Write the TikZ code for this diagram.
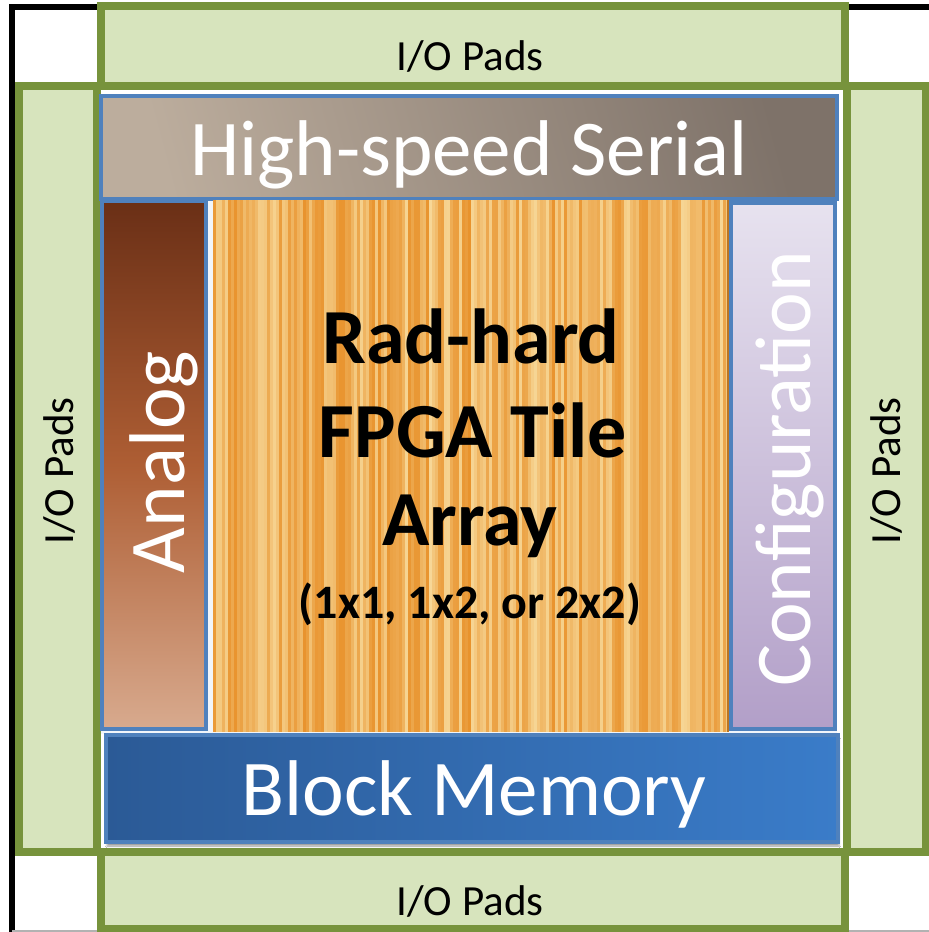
\documentclass[tikz,border=0pt]{standalone}
\usepackage{fontspec}
\setmainfont{Carlito}
\usetikzlibrary{shadows.blur}
\definecolor{padline}{HTML}{77933C}
\definecolor{padfill}{HTML}{D7E4BD}
\definecolor{edge}{HTML}{4F81BD}
\definecolor{hssL}{HTML}{BCAD9D}
\definecolor{hssR}{HTML}{7E7269}
\definecolor{anTop}{HTML}{6A2F16}
\definecolor{anMid}{HTML}{AE5E34}
\definecolor{anBot}{HTML}{D8AA8E}
\definecolor{cfTop}{HTML}{E7E2EF}
\definecolor{cfBot}{HTML}{B29FC8}
\definecolor{bmL}{HTML}{2B5A96}
\definecolor{bmR}{HTML}{3A7CC9}
\definecolor{tileDark}{HTML}{E8922C}
\definecolor{tileLight}{HTML}{F7D898}
\begin{document}
\begin{tikzpicture}[x=1pt,y=-1pt,
  pad/.style={draw=padline,fill=padfill,line width=8pt},
  blk/.style={draw=edge,line width=3.5pt},
  wtext/.style={text=white,inner sep=0pt,font=\fontsize{79}{80}\selectfont},
  iotext/.style={text=black,inner sep=0pt,font=\fontsize{43}{44}\selectfont},
  btext/.style={text=black,inner sep=0pt,font=\bfseries\fontsize{78}{80}\selectfont}]
\useasboundingbox (0,0) rectangle (929,932);
\fill[white] (0,0) rectangle (929,932);
% black frame remnants
\draw[line width=6pt] (12,932) -- (12,7) -- (97,7);
\draw[line width=6pt] (848,7) -- (929,7);
\draw[gray!60,line width=1.5pt] (12,931.2) -- (929,931.2);
% pads
\draw[pad] (19,86) rectangle (97,852);
\draw[pad] (847,86) rectangle (926,852);
\draw[pad] (101,6) rectangle (845,86);
\draw[pad] (101,852) rectangle (845,929);
% middle background
\fill[white!92!edge] (101,198) rectangle (837,734);
% high-speed serial
\draw[blk, left color=hssL, right color=hssR, shading angle=105] (101,96) rectangle (837,199);
% tile stripes
\pgfmathsetseed{7}
\foreach \i in {0,...,171}{
  \pgfmathsetmacro{\rr}{int(100*(rnd^0.8))}
  \fill[tileDark!\rr!tileLight] (213+\i*3,200) rectangle (216+\i*3,732);
}
\fill[tileDark!80!black] (727,200) rectangle (729,732);
% analog
\draw[blk, top color=anTop, bottom color=anBot, middle color=anMid] (102,201) rectangle (206,729);
% configuration
\draw[blk, top color=cfTop, bottom color=cfBot] (731,203) rectangle (835,729);
% block memory
\draw[blk, left color=bmL, right color=bmR, blur shadow={shadow yshift=-4pt, shadow xshift=1pt, shadow opacity=40}] (106,735) rectangle (838,842);
% texts
\node[wtext, anchor=base] (hss) at (469,175) {High-speed Serial};
\node[wtext, anchor=base] (bm) at (474,815) {Block Memory};
\node[wtext, anchor=base, rotate=90] (an) at (184,462) {Analog};
\node[wtext, anchor=base, rotate=90] (cf) at (810,469) {Configuration};
\node[iotext, anchor=base] (iot) at (470,70) {I/O Pads};
\node[iotext, anchor=base] (iob) at (470,915) {I/O Pads};
\node[iotext, anchor=base, rotate=90] (iol) at (73,471) {I/O Pads};
\node[iotext, anchor=base, rotate=90] (ior) at (900,471) {I/O Pads};
\node[btext, anchor=base] (t1) at (471,363) {Rad-hard};
\node[btext, anchor=base] (t2) at (473,457) {FPGA Tile};
\node[btext, anchor=base] (t3) at (470,545) {Array};
\node[text=black,inner sep=0pt,font=\bfseries\fontsize{48}{50}\selectfont, anchor=base] (t4) at (470,618) {(1x1, 1x2, or 2x2)};
\end{tikzpicture}
\end{document}
